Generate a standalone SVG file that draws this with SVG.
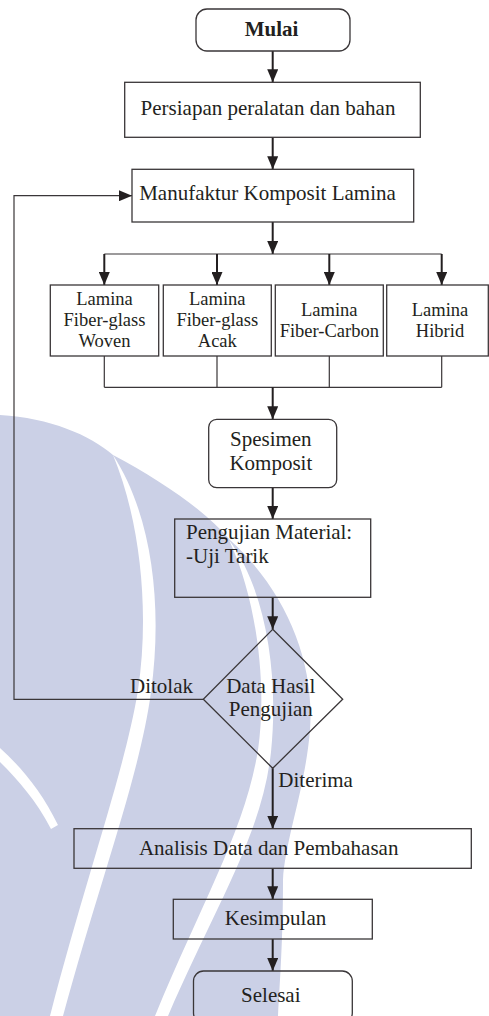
<svg xmlns="http://www.w3.org/2000/svg" width="489" height="1016" viewBox="0 0 489 1016">
<style>
.box{fill:none;stroke:#3a3638;stroke-width:1.3}
.ln{fill:none;stroke:#3a3638;stroke-width:1.2}
.arr{fill:none;stroke:#231f20;stroke-width:2;marker-end:url(#ah)}
.t{font-family:"Liberation Serif","Times New Roman",serif;font-size:21px;fill:#231f20}
.s{font-size:18.5px}
.m{text-anchor:middle}
.wm{fill:#cbd0e6;stroke:none}
.wg{fill:#ffffff;stroke:none}
</style>
<defs>
<marker id="ah" markerUnits="userSpaceOnUse" markerWidth="13" markerHeight="11" refX="13" refY="5.5" orient="auto">
<path d="M0,0 L13,5.5 L0,11 Z" fill="#231f20"/>
</marker>
</defs>
<rect width="489" height="1016" fill="#ffffff"/>
<g id="watermark">
<path class="wm" d="M0,415 C50,418 90,435 113,455 C160,480 205,510 230,540 C285,590 315,660 310,730 C305,790 285,840 283,880 C283,940 280,980 278,1016 L0,1016 Z"/>
<path class="wg" d="M113,455 C140,520 150,610 138,690 C125,770 88,870 50,1016 L63,1016 C100,880 140,775 151,692 C163,605 152,515 113,455 Z"/>
<path class="wg" d="M229,540 C255,595 268,680 258,750 C245,830 203,900 155,1016 L168,1016 C216,905 262,835 271,752 C279,675 266,590 229,540 Z"/>
<path class="wg" d="M0,748 C22,768 42,792 58,825 L51,829 C36,800 18,780 0,762 Z"/>
</g>
<g id="connectors">
<line class="arr" x1="272.7" y1="51" x2="272.7" y2="82.3"/>
<line class="arr" x1="272.7" y1="137.3" x2="272.7" y2="169.3"/>
<line class="arr" x1="272.7" y1="222" x2="272.7" y2="254"/>
<line class="ln" x1="104.3" y1="254" x2="441.7" y2="254"/>
<line class="arr" x1="104.3" y1="254" x2="104.3" y2="285"/>
<line class="arr" x1="217" y1="254" x2="217" y2="285"/>
<line class="arr" x1="329.3" y1="254" x2="329.3" y2="285"/>
<line class="arr" x1="441.7" y1="254" x2="441.7" y2="285"/>
<path class="ln" d="M104.3,356 V387.3 M217,356 V387.3 M329.3,356 V387.3 M441.7,356 V387.3 M104.3,387.3 H441.7"/>
<line class="arr" x1="272.7" y1="387.3" x2="272.7" y2="419.3"/>
<line class="arr" x1="272.7" y1="487.7" x2="272.7" y2="519"/>
<line class="arr" x1="272.7" y1="597.3" x2="272.7" y2="629.3"/>
<path class="ln" d="M203.3,699.3 H14 V195.7 H132" marker-end="url(#ah)"/>
<line class="arr" x1="272.7" y1="768.3" x2="272.7" y2="828.7"/>
<line class="arr" x1="272.7" y1="868.3" x2="272.7" y2="899.3"/>
<line class="arr" x1="272.7" y1="939" x2="272.7" y2="971"/>
<text class="t" x="130" y="692.7">Ditolak</text>
<text class="t" x="278.3" y="787.3">Diterima</text>
</g>
<g id="mulai">
<rect class="box" x="196" y="9" width="154" height="42" rx="11"/>
<text class="t m" x="271.5" y="36" font-weight="bold">Mulai</text>
</g>
<g id="persiapan">
<rect class="box" x="124.7" y="82.3" width="295.6" height="55"/>
<text class="t m" x="268" y="115">Persiapan peralatan dan bahan</text>
</g>
<g id="manufaktur">
<rect class="box" x="132" y="169.3" width="281.7" height="52.7"/>
<text class="t m" x="267.5" y="200">Manufaktur Komposit Lamina</text>
</g>
<g id="lamina-woven">
<rect class="box" x="50.3" y="285" width="108.4" height="71"/>
<text class="t s m" x="104.5" y="305">Lamina</text>
<text class="t s m" x="104.5" y="326">Fiber-glass</text>
<text class="t s m" x="104.5" y="347">Woven</text>
</g>
<g id="lamina-acak">
<rect class="box" x="163.3" y="285" width="108" height="71"/>
<text class="t s m" x="217.3" y="305">Lamina</text>
<text class="t s m" x="217.3" y="326">Fiber-glass</text>
<text class="t s m" x="217.3" y="347">Acak</text>
</g>
<g id="lamina-carbon">
<rect class="box" x="275.3" y="285" width="108" height="71"/>
<text class="t s m" x="329.3" y="316">Lamina</text>
<text class="t s m" x="329.3" y="337">Fiber-Carbon</text>
</g>
<g id="lamina-hibrid">
<rect class="box" x="386.7" y="285" width="101.6" height="71"/>
<text class="t s m" x="440" y="316">Lamina</text>
<text class="t s m" x="440" y="337">Hibrid</text>
</g>
<g id="spesimen">
<rect class="box" x="208.7" y="419.3" width="128" height="68.4" rx="8"/>
<text class="t m" x="270.8" y="446">Spesimen</text>
<text class="t m" x="270.8" y="470">Komposit</text>
</g>
<g id="pengujian">
<rect class="box" x="174.7" y="519" width="196" height="78.3"/>
<text class="t" x="186" y="539.3">Pengujian Material:</text>
<text class="t" x="186" y="562.7">-Uji Tarik</text>
</g>
<g id="keputusan">
<path class="box" d="M272.7,629.3 L342.7,699.3 L272.7,768.3 L203.3,699.3 Z" stroke-width="1.1"/>
<text class="t m" x="270.8" y="692.7">Data Hasil</text>
<text class="t m" x="270.8" y="716">Pengujian</text>
</g>
<g id="analisis">
<rect class="box" x="74" y="828.7" width="397.3" height="39.6"/>
<text class="t m" x="268.7" y="855">Analisis Data dan Pembahasan</text>
</g>
<g id="kesimpulan">
<rect class="box" x="173.3" y="899.3" width="199" height="39.7"/>
<text class="t m" x="275.5" y="925">Kesimpulan</text>
</g>
<g id="selesai">
<rect class="box" x="193.5" y="971" width="158.8" height="52" rx="10"/>
<text class="t m" x="270.8" y="1001.7">Selesai</text>
</g>
</svg>
